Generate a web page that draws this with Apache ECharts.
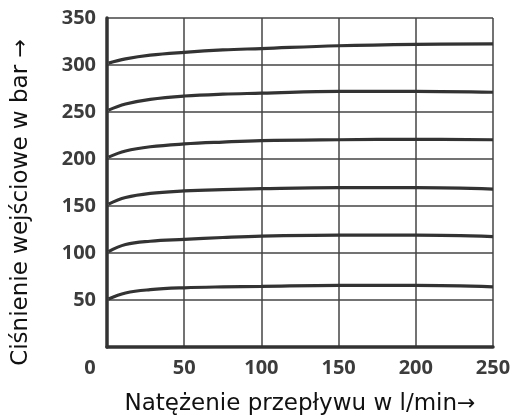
<!DOCTYPE html>
<html>
<head>
<meta charset="utf-8">
<script src="https://cdn.jsdelivr.net/npm/echarts@6/dist/echarts.min.js"></script>
<style>
  html, body { margin: 0; padding: 0; background: #fff; }
  #chart { width: 514px; height: 417px; }
</style>
</head>
<body>
<div id="chart"></div>
<script>
// przepływ (l/min) i ciśnienie wejściowe (bar) dla każdej krzywej
const flow = [1, 12, 28, 50, 75, 100, 150, 200, 250];
const p50  = [51, 57.5, 61, 63, 64, 64.5, 65.5, 65.5, 64];
const p100 = [101.5, 109, 112.5, 114.5, 116.5, 118, 119, 119, 117.5];
const p150 = [152, 159, 163.5, 166, 167.5, 168.5, 169.5, 169.5, 168];
const p200 = [202, 208.5, 213, 216, 218, 219.5, 220.5, 221, 220.5];
const p250 = [252, 258.5, 263.5, 267, 269, 270, 272, 272, 271];
const p300 = [302, 306.5, 310.5, 313.5, 316, 317.5, 320.5, 322, 322.5];
const curves = [p50, p100, p150, p200, p250, p300];

const xTicks = [0, 50, 100, 150, 200, 250];
const yTicks = [0, 50, 100, 150, 200, 250, 300, 350];

let myChart = echarts.init(document.getElementById("chart"));

const tickFont = {
  fontFamily: "Open Sans",
  fontWeight: "bold",
  fontSize: 20,
  color: "#3c3c3c",
};
const nameFont = {
  fontFamily: "DejaVu Sans",
  fontSize: 23,
  color: "#111",
};
const arrowFont = { fontFamily: "DejaVu Sans", fontSize: 22, color: "#111" };

myChart.setOption({
  animation: false,
  grid: { left: 107, right: 21, top: 18, bottom: 70, outerBoundsMode: "none" },
  xAxis: {
    type: "value",
    min: xTicks[0],
    max: xTicks[xTicks.length - 1],
    interval: 50,
    name: "Natężenie przepływu w l/min{a|→}",
    nameLocation: "middle",
    nameGap: 46,
    nameTextStyle: {
      ...nameFont,
      rich: { a: arrowFont },
    },
    axisLine: { lineStyle: { color: "#333", width: 3.5 } },
    axisTick: { show: false },
    splitLine: { lineStyle: { color: "#444", width: 1.5 } },
    axisLabel: {
      margin: 11,
      formatter: (v) => (v === 0 ? "{zero|0}" : String(v)),
      rich: { zero: Object.assign({ padding: [0, 34, 0, 0] }, tickFont) },
      ...tickFont,
    },
  },
  yAxis: {
    type: "value",
    min: yTicks[0],
    max: yTicks[yTicks.length - 1],
    interval: 50,
    name: "Ciśnienie wejściowe w bar {a|→}",
    nameLocation: "middle",
    nameGap: 74,
    nameTextStyle: {
      ...nameFont,
      padding: [0, 40, 0, 0],
      rich: { a: arrowFont },
    },
    axisLine: { show: true, lineStyle: { color: "#333", width: 3.5 } },
    axisTick: { show: false },
    splitLine: { lineStyle: { color: "#444", width: 1.5 } },
    axisLabel: {
      margin: 11,
      formatter: (v) => (v === 0 ? "" : String(v)),
      ...tickFont,
    },
  },
  series: curves.map((c, i) => ({
    name: "p" + (i + 1) * 50,
    type: "line",
    smooth: 0.4,
    symbol: "none",
    data: flow.map((x, j) => [x, c[j]]),
    lineStyle: { color: "#333", width: 3.2 },
  })),
});
</script>
</body>
</html>
